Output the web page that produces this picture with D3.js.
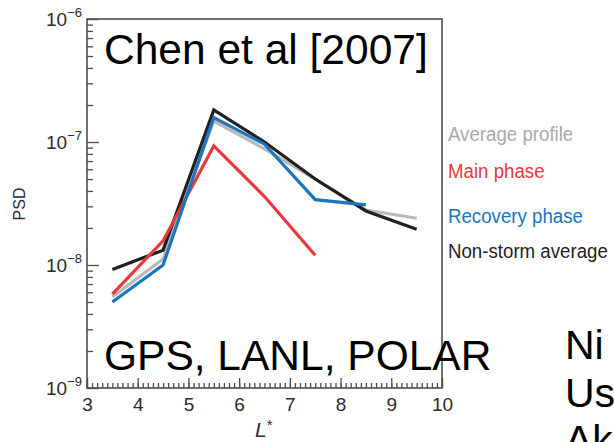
<!DOCTYPE html>
<html>
<head>
<meta charset="utf-8">
<script src="https://cdn.jsdelivr.net/npm/d3@7/dist/d3.min.js"></script>
<style>
  html, body { margin: 0; padding: 0; background: #fff; }
  svg { display: block; }
  text { font-family: "Liberation Sans", Arial, sans-serif; }
</style>
</head>
<body>
<svg id="chart" width="614" height="442"></svg>
<script>
// L* shells (bin centres)
const lShells = [3.5, 4.5, 5.5, 6.5, 7.5, 8.5, 9.5];

// Phase space density per profile
const averageProfile = [5.5e-9, 1.12e-8, 1.48e-7, 8.8e-8, 5.0e-8, 2.8e-8, 2.4e-8];
const mainPhase      = [5.8e-9, 1.57e-8, 9.3e-8, 3.6e-8, 1.2e-8];
const recoveryPhase  = [5.0e-9, 1.0e-8, 1.58e-7, 9.6e-8, 3.4e-8, 3.08e-8];
const nonStormAvg    = [9.2e-9, 1.32e-8, 1.82e-7, 1.0e-7, 5.0e-8, 2.75e-8, 1.95e-8];

// Axis ticks
const xTickValues = [3, 4, 5, 6, 7, 8, 9, 10];
const yDecades = [-9, -8, -7, -6];

const seriesNames  = ["Average profile", "Main phase", "Recovery phase", "Non-storm average"];
const seriesColors = ["#b9b9b9", "#e8393e", "#1b75bd", "#231f20"];
const legendColors = ["#a9a9a9", "#e8393e", "#1b75bd", "#231f20"];
const seriesValues = [averageProfile, mainPhase, recoveryPhase, nonStormAvg];

const svg = d3.select("#chart");

const plot = { left: 87, right: 442, top: 19, bottom: 388 };

const x = d3.scaleLinear().domain([3, 10]).range([plot.left, plot.right]);
const y = d3.scaleLog().domain([1e-9, 1e-6]).range([plot.bottom, plot.top]);

const axisColor = "#4d4d4d";
const labelColor = "#2b2b2b";

// Minor y ticks (2..9 in every decade), pointing into the plot
const yMinor = [];
for (let e = -9; e < -6; e++) for (let m = 2; m <= 9; m++) yMinor.push(m * Math.pow(10, e));

const gyMinor = svg.append("g")
  .attr("transform", `translate(${plot.left},0)`)
  .call(d3.axisLeft(y).tickValues(yMinor).tickSize(-6).tickFormat(""));
const gyMajor = svg.append("g")
  .attr("transform", `translate(${plot.left},0)`)
  .call(d3.axisLeft(y).tickValues(yDecades.map(e => Math.pow(10, e))).tickSize(-12).tickFormat(""));

// Minor x ticks every 0.1
const xMinor = d3.range(30, 101).map(v => v / 10);
const gxMinor = svg.append("g")
  .attr("transform", `translate(0,${plot.bottom})`)
  .call(d3.axisBottom(x).tickValues(xMinor).tickSize(-5).tickFormat(""));
const gxMajor = svg.append("g")
  .attr("transform", `translate(0,${plot.bottom})`)
  .call(d3.axisBottom(x).tickValues(xTickValues).tickSize(-10).tickPadding(9)
    .tickFormat(d3.format("d")));

[gyMinor, gyMajor, gxMinor, gxMajor].forEach(g => {
  g.select(".domain").remove();
  g.selectAll(".tick line").attr("stroke", axisColor).attr("stroke-width", 1.3);
});

gxMajor.selectAll(".tick text")
  .attr("fill", labelColor)
  .attr("font-size", 19)
  .attr("dy", "0.72em");

// Decade labels: 10 with a raised exponent
gyMajor.selectAll(".tick").each(function(d) {
  const e = Math.round(Math.log10(d));
  const t = d3.select(this).append("text")
    .attr("x", -5)
    .attr("dy", "0.36em")
    .attr("text-anchor", "end")
    .attr("fill", labelColor)
    .attr("font-size", 19);
  t.append("tspan").text("10");
  t.append("tspan").attr("font-size", 13).attr("dy", "-0.75em").text("\u2212" + Math.abs(e));
});

// Plot frame
svg.append("rect")
  .attr("x", plot.left).attr("y", plot.top)
  .attr("width", plot.right - plot.left).attr("height", plot.bottom - plot.top)
  .attr("fill", "none").attr("stroke", axisColor).attr("stroke-width", 1.6);

// Profiles
const line = d3.line()
  .x((d, i) => x(lShells[i]))
  .y(d => y(d));

const drawOrder = [0, 3, 1, 2];
drawOrder.forEach(k => {
  svg.append("path")
    .datum(seriesValues[k])
    .attr("d", line)
    .attr("fill", "none")
    .attr("stroke", seriesColors[k])
    .attr("stroke-width", 3.2)
    .attr("stroke-linejoin", "miter");
});

// Legend (condensed lettering)
const legendBaselines = [140.5, 178, 223, 258];
seriesNames.forEach((name, i) => {
  svg.append("text")
    .attr("transform", `translate(448,${legendBaselines[i]}) scale(0.89,1)`)
    .attr("fill", legendColors[i])
    .attr("font-size", 21)
    .text(name);
});

// Axis titles
svg.append("text")
  .attr("transform", "translate(25,204) rotate(-90)")
  .attr("text-anchor", "middle")
  .attr("fill", labelColor)
  .attr("font-size", 16)
  .text("PSD");

const xTitle = svg.append("text")
  .attr("x", 255)
  .attr("y", 437)
  .attr("fill", labelColor)
  .attr("font-size", 21)
  .attr("font-style", "italic");
xTitle.append("tspan").text("L");
xTitle.append("tspan").attr("font-size", 15).attr("dy", "-0.45em").attr("font-style", "normal").text("*");

// Annotations
svg.append("text")
  .attr("x", 104).attr("y", 64)
  .attr("fill", "#000").attr("font-size", 42.5)
  .text("Chen et al [2007]");

svg.append("text")
  .attr("x", 104).attr("y", 370)
  .attr("fill", "#000").attr("font-size", 42.5)
  .text("GPS, LANL, POLAR");

const sideNotes = ["Ni", "Us", "Ak"];
sideNotes.forEach((s, i) => {
  svg.append("text")
    .attr("x", 565).attr("y", 359 + i * 47.5)
    .attr("fill", "#000").attr("font-size", 41)
    .text(s);
});
</script>
</body>
</html>
